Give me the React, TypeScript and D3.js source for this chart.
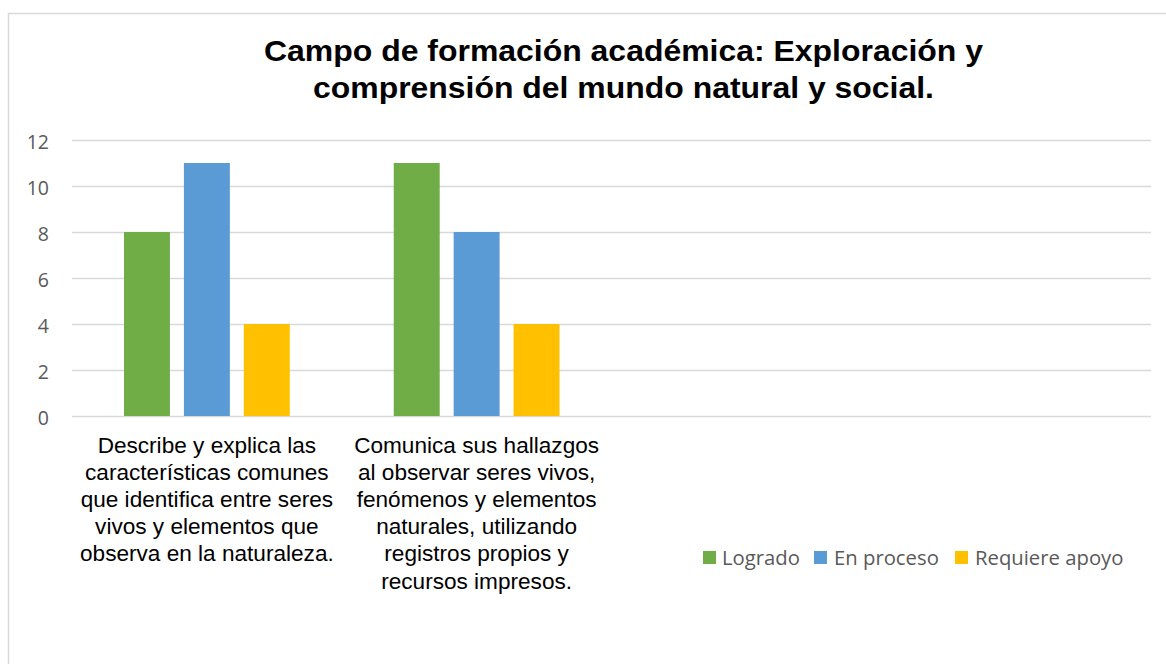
import React from "react";
import * as d3 from "d3";

const categories = [
  ["Describe y explica las", "características comunes", "que identifica entre seres", "vivos y elementos que", "observa en la naturaleza."],
  ["Comunica sus hallazgos", "al observar seres vivos,", "fenómenos y elementos", "naturales, utilizando", "registros propios y", "recursos impresos."],
  [],
  [],
];
const seriesNames = ["Logrado", "En proceso", "Requiere apoyo"];
const seriesColors = ["#70AD47", "#5B9BD5", "#FFC000"];
const logrado = [8, 11, null, null];
const enProceso = [11, 8, null, null];
const requiereApoyo = [4, 4, null, null];
const yTicks = [0, 2, 4, 6, 8, 10, 12];
const titleLines = ["Campo de formación académica: Exploración y", "comprensión del mundo natural y social."];

export default function App() {
  const W = 1166, H = 664;
  const left = 72, right = 1151, top = 140, bottom = 416;
  const series = [logrado, enProceso, requiereApoyo];
  const idx = categories.map((_, i) => i);
  const x0 = d3.scaleBand<number>().domain(idx).range([left, right]).padding(0);
  const groupPad = 52;
  const x1 = d3.scaleBand<number>().domain([0, 1, 2]).range([groupPad, x0.bandwidth() - groupPad]).paddingInner(0.233).paddingOuter(0);
  const y = d3.scaleLinear().domain([0, 12]).range([bottom, top]);
  const sans = "'Liberation Sans', Arial, sans-serif";
  const cal = "'Open Sans', sans-serif";
  const titleWidths = [719, 621];
  const legendItems = [
    { x: 703, tx: 722 },
    { x: 814, tx: 834 },
    { x: 955, tx: 975 },
  ];
  return (
    <svg width={W} height={H} style={{ position: "absolute", left: 0, top: 0, background: "#fff" }}>
      <rect x={8.5} y={13.5} width={1200} height={700} fill="#fff" stroke="#d9d9d9" strokeWidth={1.5} />
      {titleLines.map((t, i) => (
        <text key={i} x={623.5} y={61 + i * 36.5} textAnchor="middle" fontFamily={sans} fontWeight="bold" fontSize={29.5}
          textLength={titleWidths[i]} lengthAdjust="spacingAndGlyphs" fill="#000">{t}</text>
      ))}
      {yTicks.map((t) => (
        <g key={t}>
          <line x1={left} x2={right} y1={Math.round(y(t)) + 0.5} y2={Math.round(y(t)) + 0.5} stroke="#d9d9d9" strokeWidth={1.5} />
          <text x={49} y={y(t) + 8.5} textAnchor="end" fontFamily={cal} fontSize={19.5} fill="#595959">{t}</text>
        </g>
      ))}
      {series.map((vals, s) => (
        <g key={s}>
          {vals.map((v, i) => v == null ? null : (
            <rect key={i} x={(x0(i) as number) + (x1(s) as number)} y={y(v)} width={x1.bandwidth()} height={y(0) - y(v)} fill={seriesColors[s]} />
          ))}
        </g>
      ))}
      {categories.map((lines, i) => (
        <text key={i} textAnchor="middle" fontFamily={sans} fontSize={22.6} fill="#000">
          {lines.map((l, j) => (
            <tspan key={j} x={(x0(i) as number) + x0.bandwidth() / 2} y={453 + j * 27.1}>{l}</tspan>
          ))}
        </text>
      ))}
      {seriesNames.map((n, i) => (
        <g key={n}>
          <rect x={legendItems[i].x} y={551} width={13} height={13} fill={seriesColors[i]} />
          <text x={legendItems[i].tx} y={565} fontFamily={cal} fontSize={20.3} fill="#595959">{n}</text>
        </g>
      ))}
    </svg>
  );
}
